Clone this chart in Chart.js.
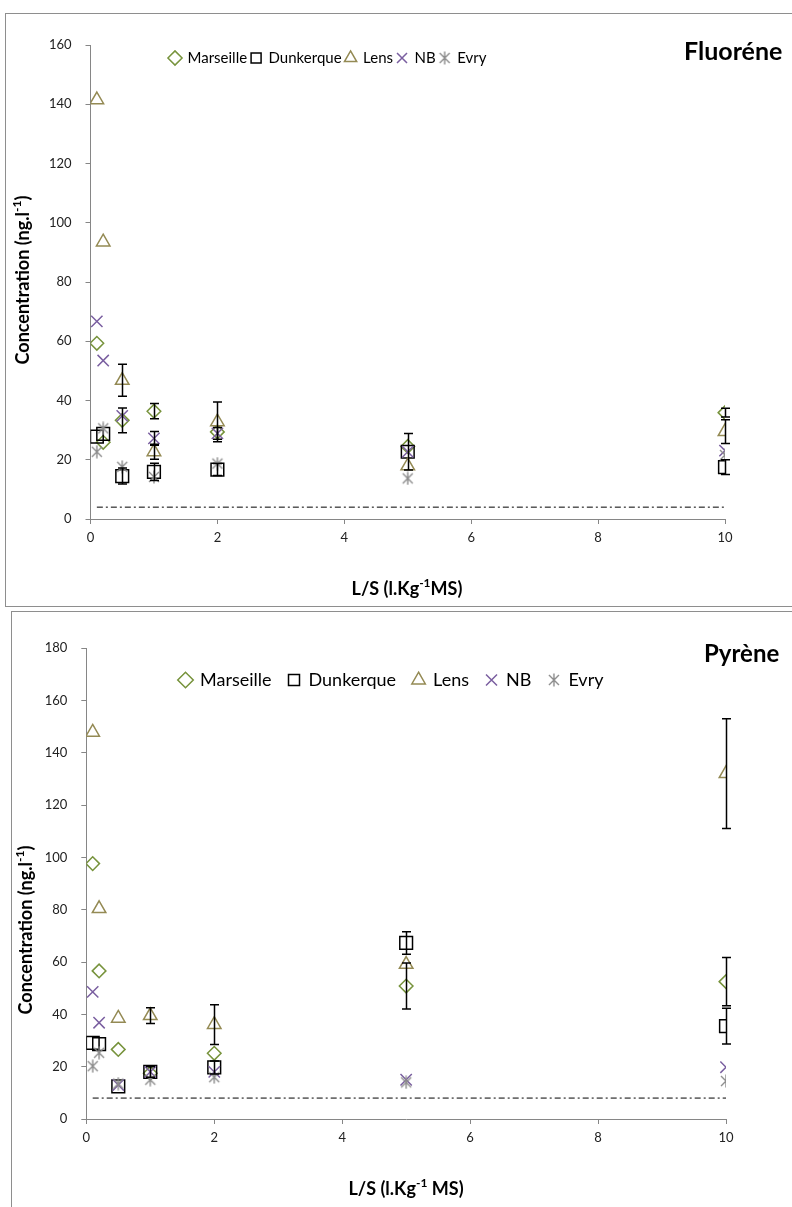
<!DOCTYPE html>
<html>
<head>
<meta charset="utf-8">
<script src="https://cdn.jsdelivr.net/npm/chart.js@4.4.0/dist/chart.umd.min.js"></script>
<style>
  html, body { margin: 0; padding: 0; background: #fff; overflow: hidden; }
  body { width: 792px; height: 1207px; position: relative; }
  .box { position: absolute; border: 1px solid #8e8e8e; background: #fff; }
  #boxF { left: 5px; top: 13px; width: 820px; height: 592px; }
  #boxP { left: 11px; top: 611px; width: 820px; height: 640px; }
  canvas { position: absolute; left: 0; top: 0; }
</style>
</head>
<body>
<div class="box" id="boxF"><canvas id="chartF" width="786" height="591"></canvas></div>
<div class="box" id="boxP"><canvas id="chartP" width="780" height="595"></canvas></div>
<script>
// L/S ratios (l/kg dry matter) at which the leachates were sampled
const lsValues = [0.1, 0.2, 0.5, 1, 2, 5, 10];
const xTickValues = [0, 2, 4, 6, 8, 10];
const siteNames = ['Marseille', 'Dunkerque', 'Lens', 'NB', 'Evry'];

// Fluorène concentrations (ng/l) and their standard deviations
const fluoMarseille    = [59.3, 25.9, 33.3, 36.4, 29.4, 24.5, 35.9];
const fluoMarseilleErr = [0, 0, 4.2, 2.6, 0, 0, 1.5];
const fluoDunkerque    = [27.8, 28.7, 14.5, 15.9, 16.7, 22.7, 17.5];
const fluoDunkerqueErr = [0, 0, 2.7, 2.9, 2.0, 6.2, 2.5];
const fluoLens         = [141.5, 93.5, 46.8, 22.7, 32.8, 17.9, 29.5];
const fluoLensErr      = [0, 0, 5.4, 2.5, 6.7, 0, 4.0];
const fluoNB           = [66.7, 53.5, 34.8, 27.2, 28.9, 22.7, 23.1];
const fluoNBErr        = [0, 0, 0, 2.3, 2.0, 0, 0];
const fluoEvry         = [22.7, 30.6, 17.6, 14.2, 18.7, 13.7, 21.6];
const fluoLimit = 4;
const fluoYTicks = [0, 20, 40, 60, 80, 100, 120, 140, 160];

// Pyrène concentrations (ng/l) and their standard deviations
const pyrMarseille    = [97.6, 56.6, 26.6, 17.5, 25.1, 50.8, 52.5];
const pyrMarseilleErr = [0, 0, 0, 0, 0, 8.8, 9.2];
const pyrDunkerque    = [29.1, 28.6, 12.5, 18.0, 19.7, 67.3, 35.5];
const pyrDunkerqueErr = [0, 0, 0, 2.0, 2.5, 4.3, 6.8];
const pyrLens         = [147.8, 80.4, 38.5, 39.5, 36.1, 59.1, 132];
const pyrLensErr      = [0, 0, 0, 3.0, 7.6, 0, 21];
const pyrNB           = [48.6, 36.8, 13.0, 18.0, 18.0, 15.0, 19.8];
const pyrEvry         = [20.2, 25.3, 13.5, 15.0, 16.0, 14.0, 14.5];
const pyrLimit = 8;
const pyrYTicks = [0, 20, 40, 60, 80, 100, 120, 140, 160, 180];

const siteColors = ['#77933C', '#000000', '#948A54', '#7A5FA0', '#8C8C8C'];

// asterisk marker: an X crossed by a vertical stroke
function makeAsterisk(color) {
  const c = document.createElement('canvas');
  c.width = 14; c.height = 14;
  const g = c.getContext('2d');
  g.strokeStyle = color; g.lineWidth = 1.4;
  g.beginPath();
  g.moveTo(2, 2); g.lineTo(12, 12);
  g.moveTo(12, 2); g.lineTo(2, 12);
  g.moveTo(7, 0.5); g.lineTo(7, 13.5);
  g.stroke();
  return c;
}
const evryMarker = makeAsterisk(siteColors[4]);
const markerStyles = ['rectRot', 'rect', 'triangle', 'crossRot', evryMarker];
const markerRadius = [6.8, 9, 7.8, 8, 7];

function pts(vals) { return vals.map((v, i) => ({ x: lsValues[i], y: v })); }

function buildDatasets(series, errs, limit) {
  const ds = series.map((vals, i) => ({
    label: siteNames[i],
    data: pts(vals),
    errors: errs[i],
    pointStyle: markerStyles[i],
    pointRadius: markerRadius[i],
    pointHoverRadius: markerRadius[i],
    borderColor: siteColors[i],
    backgroundColor: 'rgba(0,0,0,0)',
    pointBorderWidth: 1.5,
    borderWidth: 1.5,
    order: 10 - i
  }));
  ds.push({
    label: 'limit',
    type: 'line',
    data: [{ x: lsValues[0], y: limit }, { x: lsValues[lsValues.length - 1], y: limit }],
    borderColor: '#000',
    borderWidth: 1,
    borderDash: [6, 3, 2, 3],
    pointRadius: 0,
    fill: false,
    order: 20
  });
  return ds;
}

// vertical error bars with caps
const errorBars = {
  id: 'errorBars',
  afterDatasetsDraw(chart) {
    const ctx = chart.ctx, xs = chart.scales.x, ys = chart.scales.y;
    ctx.save();
    ctx.strokeStyle = '#000';
    ctx.lineWidth = 1.5;
    chart.data.datasets.forEach(ds => {
      if (!ds.errors) return;
      ds.data.forEach((p, j) => {
        const e = ds.errors[j];
        if (!e) return;
        const x = Math.round(xs.getPixelForValue(p.x)) + 0.5;
        const y1 = ys.getPixelForValue(p.y + e);
        const y2 = ys.getPixelForValue(p.y - e);
        ctx.beginPath();
        ctx.moveTo(x, y1); ctx.lineTo(x, y2);
        ctx.moveTo(x - 4.5, y1); ctx.lineTo(x + 4.5, y1);
        ctx.moveTo(x - 4.5, y2); ctx.lineTo(x + 4.5, y2);
        ctx.stroke();
      });
    });
    ctx.restore();
  }
};

// text runs with superscripts
function drawRuns(ctx, runs, cx, cy, size, rotate) {
  ctx.save();
  ctx.translate(cx, cy);
  if (rotate) ctx.rotate(-Math.PI / 2);
  ctx.fillStyle = '#000';
  ctx.textBaseline = 'middle';
  ctx.textAlign = 'left';
  const fonts = runs.map(r => `bold ${r.sup ? Math.round(size * 0.65) : size}px Lato, "Open Sans", sans-serif`);
  let total = 0;
  const widths = runs.map((r, i) => { ctx.font = fonts[i]; const w = ctx.measureText(r.t).width; total += w; return w; });
  let x = -total / 2;
  runs.forEach((r, i) => {
    ctx.font = fonts[i];
    ctx.fillText(r.t, x, r.sup ? -size * 0.35 : 0);
    x += widths[i];
  });
  ctx.restore();
}

function makeChart(id, cfg) {
  const labels = {
    id: 'labels' + id,
    beforeUpdate(chart) {
      // lay the in-plot legend out as a single row
      if (chart.legend) chart.legend.isHorizontal = () => true;
    },
    afterLayout(chart) {
      const lg = chart.legend;
      lg.left += cfg.legendDX; lg.right += cfg.legendDX;
      lg.top += cfg.legendDY; lg.bottom += cfg.legendDY;
    },
    afterDraw(chart) {
      const ctx = chart.ctx;
      ctx.save();
      ctx.fillStyle = '#000';
      ctx.font = `bold ${cfg.titleSize}px Lato, "Open Sans", sans-serif`;
      ctx.textBaseline = 'middle';
      ctx.textAlign = 'left';
      ctx.fillText(cfg.title, cfg.titleX, cfg.titleY);
      ctx.restore();
      drawRuns(ctx, cfg.yTitle, cfg.yTitleX, cfg.yTitleY, 18, true);
      drawRuns(ctx, cfg.xTitle, cfg.xTitleX, cfg.xTitleY, 18, false);
    }
  };
  return new Chart(document.getElementById(id), {
    type: 'scatter',
    data: { datasets: cfg.datasets },
    options: {
      responsive: false,
      animation: false,
      events: [],
      layout: { padding: { left: 0, top: cfg.top, right: cfg.right, bottom: 0 } },
      plugins: {
        tooltip: { enabled: false },
        legend: {
          position: 'chartArea',
          align: 'start',
          labels: {
            usePointStyle: true,
            boxWidth: cfg.legendBox,
            boxHeight: cfg.legendBox,
            padding: cfg.legendPad,
            color: '#000',
            font: { family: 'Lato, "Open Sans", sans-serif', size: cfg.legendFont },
            filter: item => item.datasetIndex < 5,
            sort: (a, b) => a.datasetIndex - b.datasetIndex
          }
        }
      },
      scales: {
        x: {
          type: 'linear',
          min: 0, max: 10,
          afterBuildTicks: s => { s.ticks = xTickValues.map(v => ({ value: v })); },
          afterFit: s => { s.height = cfg.xHeight; },
          grid: { display: true, drawOnChartArea: false, drawTicks: true, tickLength: 5, color: '#868686' },
          border: { display: true, color: '#868686', width: 1 },
          ticks: { color: '#222', padding: 6, font: { family: 'Lato, "Open Sans", sans-serif', size: 13 } }
        },
        y: {
          type: 'linear',
          min: 0, max: cfg.yMax,
          afterBuildTicks: s => { s.ticks = cfg.yTicks.map(v => ({ value: v })); },
          afterFit: s => { s.width = cfg.yWidth; },
          grid: { display: true, drawOnChartArea: false, drawTicks: true, tickLength: 5, color: '#868686' },
          border: { display: true, color: '#868686', width: 1 },
          ticks: { color: '#222', padding: 14, font: { family: 'Lato, "Open Sans", sans-serif', size: 13 } }
        }
      }
    },
    plugins: [errorBars, labels]
  });
}

makeChart('chartF', {
  datasets: buildDatasets(
    [fluoMarseille, fluoDunkerque, fluoLens, fluoNB, fluoEvry],
    [fluoMarseilleErr, fluoDunkerqueErr, fluoLensErr, fluoNBErr, null],
    fluoLimit),
  yMax: 160, yTicks: fluoYTicks,
  top: 31, right: 67, yWidth: 84.5, xHeight: 86,
  legendDX: 160, legendDY: 1.5, legendPad: 4, legendFont: 15, legendBox: 10,
  title: 'Fluoréne', titleSize: 25, titleX: 678, titleY: 38,
  yTitle: [{ t: 'Concentration (ng.l' }, { t: '-1', sup: true }, { t: ')' }],
  yTitleX: 17, yTitleY: 266,
  xTitle: [{ t: 'L/S (l.Kg' }, { t: '-1', sup: true }, { t: 'MS)' }],
  xTitleX: 401, xTitleY: 575
});

makeChart('chartP', {
  datasets: buildDatasets(
    [pyrMarseille, pyrDunkerque, pyrLens, pyrNB, pyrEvry],
    [pyrMarseilleErr, pyrDunkerqueErr, pyrLensErr, null, null],
    pyrLimit),
  yMax: 180, yTicks: pyrYTicks,
  top: 36, right: 66, yWidth: 74.3, xHeight: 88,
  legendDX: 151, legendDY: 6, legendPad: 17, legendFont: 18, legendBox: 11,
  title: 'Pyrène', titleSize: 24, titleX: 692, titleY: 42,
  yTitle: [{ t: 'Concentration (ng.l' }, { t: '-1', sup: true }, { t: ')' }],
  yTitleX: 14, yTitleY: 318,
  xTitle: [{ t: 'L/S (l.Kg' }, { t: '-1', sup: true }, { t: ' MS)' }],
  xTitleX: 394, xTitleY: 577
});
</script>
</body>
</html>
